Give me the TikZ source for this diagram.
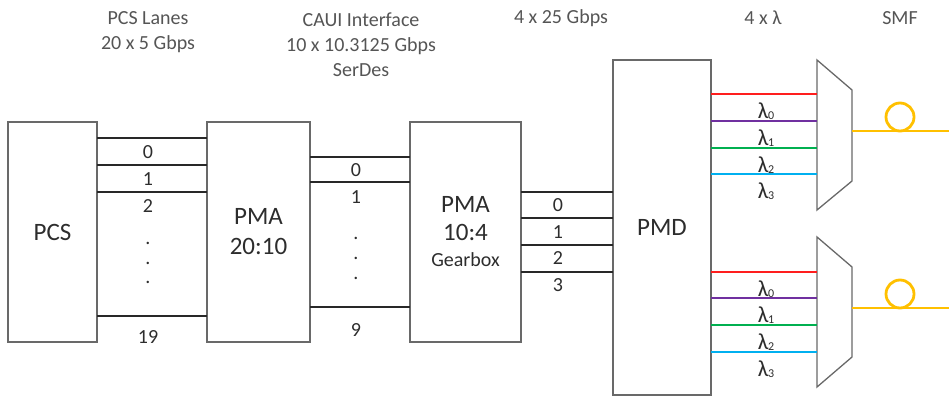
\documentclass[tikz,border=0pt]{standalone}
\usepackage{fontspec}
\setmainfont{Carlito}
\usepackage{tikz}
\usetikzlibrary{positioning,calc}
\definecolor{boxgray}{RGB}{105,105,105}
\definecolor{lanecol}{RGB}{40,40,40}
\definecolor{txtgray}{RGB}{85,85,85}
\definecolor{txtdark}{RGB}{45,45,45}
\definecolor{wred}{RGB}{255,30,30}
\definecolor{wpurple}{RGB}{112,48,160}
\definecolor{wgreen}{RGB}{0,176,80}
\definecolor{wblue}{RGB}{0,176,240}
\definecolor{fibercol}{RGB}{255,192,0}
\newcommand{\wl}[1]{λ\kern-0.5pt\raisebox{-1.5pt}{\fontsize{12}{12}\selectfont #1}}
\tikzset{
  blk/.style  ={rectangle, draw=boxgray, line width=1.3pt, minimum height=220pt,
                inner sep=0pt, outer sep=0pt, align=center, text=txtdark,
                font=\fontsize{25}{30}\selectfont},
  lane/.style ={line width=1.8pt, draw=lanecol},
  lbl/.style  ={font=\fontsize{20}{25}\selectfont, text=txtdark, inner sep=0pt},
  hdr/.style  ={lbl, align=center, text=txtgray},
  dot/.style  ={lbl, anchor=base},
  wave/.style ={line width=2.2pt},
  wlbl/.style ={font=\fontsize{23}{25}\selectfont, text=txtdark, inner sep=0pt},
  mux/.style  ={draw=boxgray, line width=1.3pt, line join=miter},
  fiber/.style={line width=2.8pt, draw=fibercol},
}

\begin{document}
\begin{tikzpicture}[x=1pt, y=-1pt, node distance=110pt]
\useasboundingbox (0,0) rectangle (949,396);

% headers
\node[hdr] (hpcs)  at (148,32) {PCS Lanes\\20 x 5 Gbps};
\node[hdr] (hcaui) at (361,45) {CAUI Interface\\10 x 10.3125 Gbps\\SerDes};
\node[hdr] (hpmd)  at (561,18) {4 x 25 Gbps};
\node[hdr] (hwl)   at (763,18) {4 x λ};
\node[hdr] (hsmf)  at (900,18) {SMF};

% blocks
\node[blk, minimum width=89pt, anchor=north west] (pcs) at (8,122) {PCS};
\node[blk, minimum width=103pt, right=110pt of pcs] (pma) {PMA\\20:10};
\node[blk, minimum width=111pt, right=100pt of pma] (gbox)
  {PMA\\[-2pt]10:4\\[-4pt]{\fontsize{20}{22}\selectfont Gearbox}};
\node[blk, minimum width=98pt, minimum height=335pt, anchor=north west] (pmd) at (613,60) {PMD};

% PCS lanes
\foreach \y in {138,165,192,316}
  \draw[lane] (pcs.east |- 0,\y) -- (pma.west |- 0,\y);
\foreach \y/\t in {152/0,179/1,206/2,337/19}
  \node[lbl] (pl\t) at (148,\y) {\t};
\foreach \y [count=\i] in {244,264,283}
  \node[dot] (pd\i) at (148,\y) {.};

% CAUI lanes
\foreach \y in {157,182,307}
  \draw[lane] (pma.east |- 0,\y) -- (gbox.west |- 0,\y);
\foreach \y/\t in {170/0,197/1,330/9}
  \node[lbl] (cl\t) at (356,\y) {\t};
\foreach \y [count=\i] in {239,259,279}
  \node[dot] (cd\i) at (356,\y) {.};

% 4 x 25G lanes
\foreach \y in {192,218,245,272}
  \draw[lane] (gbox.east |- 0,\y) -- (pmd.west |- 0,\y);
\foreach \y/\t in {205/0,232/1,258/2,285/3}
  \node[lbl] (gl\t) at (558,\y) {\t};

% upper mux
\coordinate (muxa) at (817,60);
\draw[mux] (muxa) -- ++(35,30) -- ++(0,91) -- (817,210) -- cycle;
\foreach \y/\c [count=\i from 0] in {94/wred,121/wpurple,148/wgreen,174/wblue} {
  \draw[wave, draw=\c] (pmd.east |- 0,\y) -- (muxa |- 0,\y);
  \node[wlbl] (wa\i) at (766,\y+17) {\wl{\i}};
}
\coordinate (fa) at (852,131);
\coordinate (fa end) at (949,131);
\draw[fiber] (fa) -- (fa end);
\draw[fiber] (900,117) circle (14pt);

% lower mux
\coordinate (muxb) at (817,237);
\draw[mux] (muxb) -- ++(35,30) -- ++(0,90) -- (817,387) -- cycle;
\foreach \y/\c [count=\i from 0] in {272/wred,298/wpurple,325/wgreen,352/wblue} {
  \draw[wave, draw=\c] (pmd.east |- 0,\y) -- (muxb |- 0,\y);
  \node[wlbl] (wb\i) at (766,\y+17) {\wl{\i}};
}
\coordinate (fb) at (852,308);
\coordinate (fb end) at (949,308);
\draw[fiber] (fb) -- (fb end);
\draw[fiber] (900,294) circle (14pt);
\end{tikzpicture}
\end{document}
